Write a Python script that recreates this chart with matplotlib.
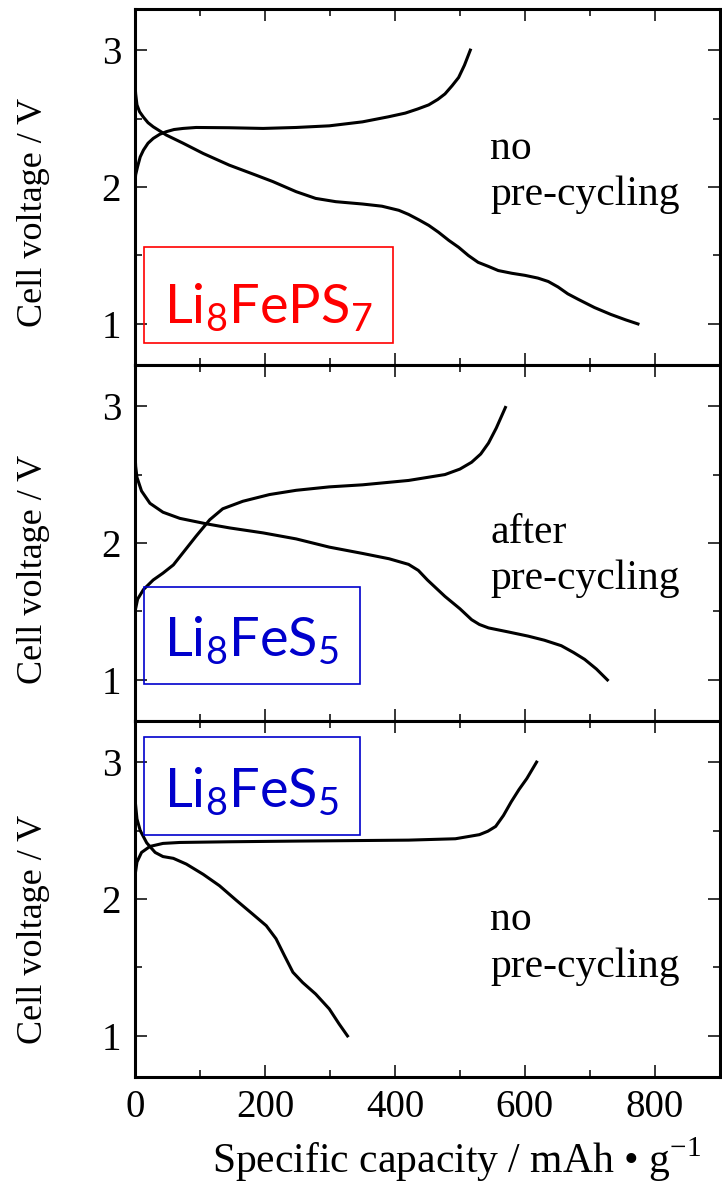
import matplotlib.pyplot as plt
from matplotlib.patches import Rectangle
from matplotlib.ticker import MultipleLocator

# -------------------------
# Data
# -------------------------
# top: Li8FePS7, no pre-cycling
fps_dis_x = [0, 1, 3, 7, 13, 20, 28, 48, 74, 105, 145, 186, 212, 248, 278, 309, 350, 380, 406, 421, 437, 452,
             467, 483, 498, 513, 528, 544, 559, 580, 600, 620, 636, 651, 666, 682, 707, 732, 755, 774]
fps_dis_v = [2.75, 2.68, 2.60, 2.55, 2.51, 2.47, 2.44, 2.38, 2.32, 2.245, 2.16, 2.087, 2.04, 1.966, 1.917, 1.893,
             1.876, 1.86, 1.83, 1.80, 1.76, 1.72, 1.67, 1.61, 1.56, 1.50, 1.45, 1.42, 1.39, 1.37, 1.355, 1.335,
             1.31, 1.27, 1.22, 1.18, 1.12, 1.07, 1.03, 1.00]
fps_chg_x = [0, 1, 4, 8, 13, 20, 28, 38, 48, 60, 74, 94, 145, 197, 248, 299, 350, 390, 416, 435, 452, 466,
             477, 488, 498, 507, 516]
fps_chg_v = [2.03, 2.09, 2.15, 2.22, 2.27, 2.32, 2.355, 2.385, 2.404, 2.42, 2.428, 2.435, 2.433, 2.428, 2.435,
             2.447, 2.476, 2.513, 2.54, 2.57, 2.60, 2.64, 2.68, 2.74, 2.80, 2.89, 3.00]

# middle: Li8FeS5, after pre-cycling
fs1_dis_x = [0, 1, 3, 10, 23, 43, 69, 110, 146, 197, 248, 299, 350, 391, 421, 436, 450, 477, 500, 518, 530,
             544, 575, 605, 630, 656, 675, 692, 710, 727]
fs1_dis_v = [2.66, 2.56, 2.48, 2.38, 2.29, 2.225, 2.18, 2.14, 2.11, 2.074, 2.03, 1.97, 1.924, 1.885, 1.844,
             1.80, 1.73, 1.61, 1.52, 1.44, 1.405, 1.38, 1.35, 1.32, 1.29, 1.25, 1.20, 1.15, 1.08, 1.00]
fs1_chg_x = [0, 4, 13, 28, 43, 59, 74, 94, 115, 135, 166, 207, 248, 299, 350, 421, 477, 500, 518, 532, 544,
             556, 570]
fs1_chg_v = [1.50, 1.59, 1.66, 1.73, 1.78, 1.84, 1.93, 2.05, 2.17, 2.25, 2.305, 2.354, 2.385, 2.41, 2.425,
             2.457, 2.50, 2.54, 2.59, 2.65, 2.73, 2.84, 2.99]

# bottom: Li8FeS5, no pre-cycling
fs2_dis_x = [0, 3, 8, 18, 31, 43, 59, 79, 105, 130, 156, 181, 202, 217, 230, 243, 258, 278, 299, 314, 327]
fs2_dis_v = [2.73, 2.585, 2.50, 2.41, 2.34, 2.31, 2.297, 2.255, 2.18, 2.097, 1.99, 1.89, 1.805, 1.71, 1.586,
             1.465, 1.39, 1.306, 1.197, 1.088, 1.00]
fs2_chg_x = [0, 3, 10, 23, 43, 69, 145, 248, 421, 493, 530, 543, 555, 567, 579, 591, 603, 618]
fs2_chg_v = [2.17, 2.27, 2.34, 2.384, 2.406, 2.413, 2.418, 2.423, 2.43, 2.44, 2.47, 2.495, 2.53, 2.61, 2.71,
             2.80, 2.88, 3.00]

x_ticks = [0, 200, 400, 600, 800]
y_ticks = [1, 2, 3]

plt.rcParams['font.family'] = 'Liberation Serif'
plt.rcParams['mathtext.fontset'] = 'custom'
plt.rcParams['mathtext.rm'] = 'Liberation Serif'
plt.rcParams['mathtext.sf'] = 'Lato'

fig = plt.figure(figsize=(7.22, 11.89), dpi=100)

panels = [
    (0.6930, fps_dis_x, fps_dis_v, fps_chg_x, fps_chg_v,
     'no\npre-cycling', 1.869,
     r'Li$_\mathsf{8}$FePS$_\mathsf{7}$', 'red', (0.0154, 0.0615, 0.425, 0.271), 0.117, 0.43),
    (0.3936, fs1_dis_x, fs1_dis_v, fs1_chg_x, fs1_chg_v,
     'after\npre-cycling', 1.662,
     r'Li$_\mathsf{8}$FeS$_\mathsf{5}$', '#0000cc', (0.0154, 0.104, 0.369, 0.272), 0.182, 0.425),
    (0.0942, fs2_dis_x, fs2_dis_v, fs2_chg_x, fs2_chg_v,
     'no\npre-cycling', 1.431,
     r'Li$_\mathsf{8}$FeS$_\mathsf{5}$', '#0000cc', (0.0154, 0.679, 0.369, 0.276), 0.758, 0.415),
]

for i, (bot, dx, dv, cx, cv, note, note_y, formula, col, box, base_y, lab_y) in enumerate(panels):
    ax = fig.add_axes([0.187, bot, 0.810, 0.2994])
    ax.plot(dx, dv, color='black', lw=2.2, solid_joinstyle='round')
    ax.plot(cx, cv, color='black', lw=2.2, solid_joinstyle='round')

    ax.set_xlim(0, 900)
    ax.set_ylim(0.7, 3.3)
    ax.set_xticks(x_ticks)
    ax.set_yticks(y_ticks)
    ax.xaxis.set_minor_locator(MultipleLocator(100))
    ax.yaxis.set_minor_locator(MultipleLocator(0.5))
    ax.tick_params(which='both', direction='in', top=True, right=True, width=1.1)
    ax.tick_params(which='major', length=8.5)
    ax.tick_params(which='minor', length=5)
    ax.tick_params(axis='y', labelsize=28, pad=10)
    ax.tick_params(axis='x', labelsize=28, pad=9)
    if i < 2:
        ax.tick_params(axis='x', labelbottom=False)
    for s in ax.spines.values():
        s.set_linewidth(2.2)

    ax.set_ylabel('Cell voltage / V', fontsize=26)
    ax.yaxis.set_label_coords(-0.145, lab_y)

    # last line sits on note_y
    ax.text(547, note_y, note, fontsize=30, ha='left', va='baseline', linespacing=1.27)

    bx, by, bw, bh = box
    ax.add_patch(Rectangle((bx, by), bw, bh, transform=ax.transAxes,
                           fill=False, edgecolor=col, lw=1.2, zorder=5))
    ax.text(bx + bw / 2, base_y, formula, transform=ax.transAxes, color=col,
            fontsize=39, family='Lato', ha='center', va='baseline', zorder=6)

    if i == 2:
        ax.set_xlabel('Specific capacity / mAh \u2022 g$^{\\mathrm{-1}}$', fontsize=30)
        ax.xaxis.set_label_coords(0.55, -0.165)

fig.savefig('out.png', dpi=100)
